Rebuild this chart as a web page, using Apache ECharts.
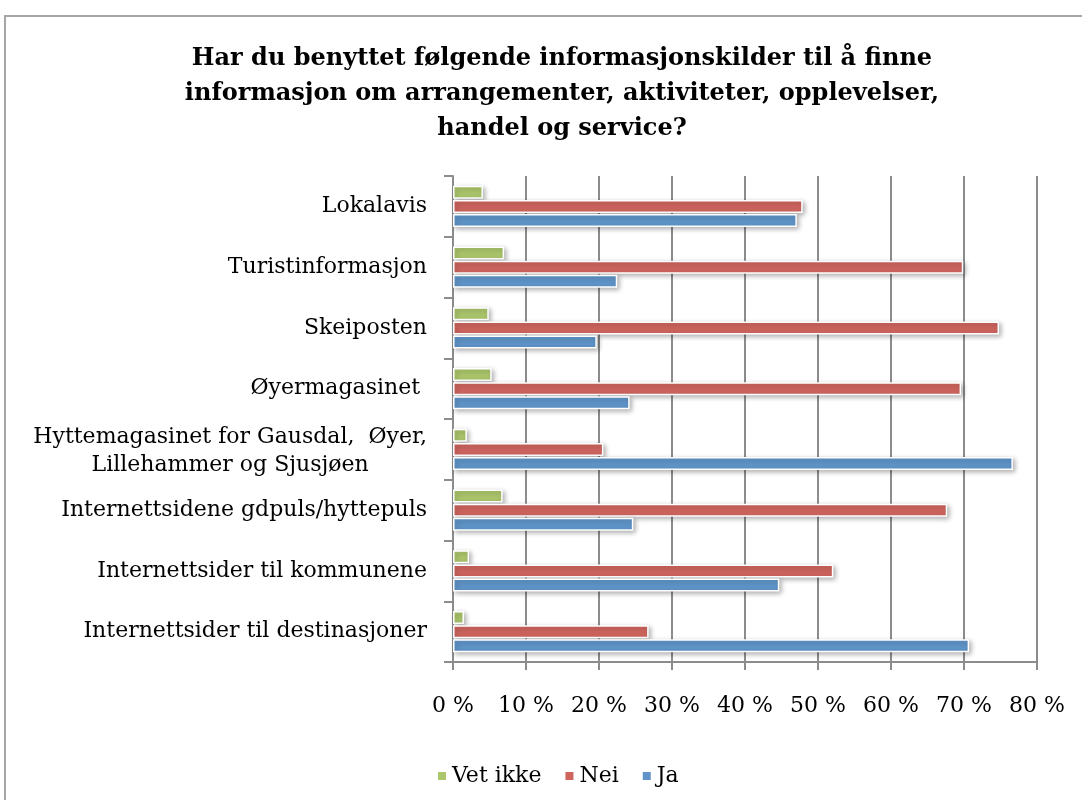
<!DOCTYPE html>
<html>
<head>
<meta charset="utf-8">
<script src="https://cdn.jsdelivr.net/npm/echarts@6/dist/echarts.min.js"></script>
<style>
  html, body { margin: 0; padding: 0; background: #fff; }
  #chart { width: 1082px; height: 800px; }
</style>
</head>
<body>
<div id="chart"></div>
<script>
const categories = [
  "Lokalavis",
  "Turistinformasjon",
  "Skeiposten",
  "Øyermagasinet ",
  "Hyttemagasinet for Gausdal,  Øyer,\nLillehammer og Sjusjøen",
  "Internettsidene gdpuls/hyttepuls",
  "Internettsider til kommunene",
  "Internettsider til destinasjoner"
];
const vetIkke = [4.1, 7.0, 4.9, 5.3, 1.9, 6.8, 2.2, 1.5];
const nei = [47.9, 69.9, 74.8, 69.6, 20.6, 67.7, 52.1, 26.8];
const ja = [47.1, 22.5, 19.7, 24.2, 76.7, 24.7, 44.7, 70.7];

const FONT = "'DejaVu Serif', serif";
const colors = { vet: "#abc56b", nei: "#cd645e", ja: "#5f94c8" };
const AXIS = "#8c8c8c";

const chart = echarts.init(document.getElementById("chart"), null, { renderer: "canvas" });

const barStyle = c => ({
  color: c,
  borderColor: "#fff",
  borderWidth: 1.5,
  shadowBlur: 5,
  shadowOffsetX: 2,
  shadowOffsetY: 2,
  shadowColor: "rgba(0,0,0,0.3)"
});

chart.setOption({
  backgroundColor: "#fff",
  animation: false,
  graphic: [{
    type: "polyline",
    shape: { points: [[5, 801], [5, 16], [1083, 16]] },
    style: { stroke: "#a6a6a6", lineWidth: 2, fill: null }
  }],
  title: {
    text: "Har du benyttet følgende informasjonskilder til å finne\ninformasjon om arrangementer, aktiviteter, opplevelser,\nhandel og service?",
    left: 557, top: 36, textAlign: "center",
    textStyle: { fontFamily: FONT, fontWeight: "bold", fontSize: 24, lineHeight: 35, color: "#000" }
  },
  legend: {
    data: ["Vet ikke", "Nei", "Ja"],
    top: 760, left: 431,
    itemWidth: 10, itemHeight: 10, itemGap: 22,
    icon: "rect",
    textStyle: { fontFamily: FONT, fontSize: 22, color: "#000" }
  },
  grid: { left: 453, right: 45, top: 176, bottom: 138 },
  xAxis: {
    type: "value", min: 0, max: 80, interval: 10,
    axisLine: { show: true, lineStyle: { color: AXIS, width: 2 } },
    axisTick: { show: true, length: 8, lineStyle: { color: AXIS, width: 2 } },
    splitLine: { show: true, lineStyle: { color: AXIS, width: 2 } },
    axisLabel: {
      margin: 33, color: "#000", fontFamily: FONT, fontSize: 22,
      formatter: v => v + " %"
    }
  },
  yAxis: {
    type: "category", inverse: true, data: categories,
    axisLine: { show: true, lineStyle: { color: AXIS, width: 2 } },
    axisTick: { show: true, length: 9, lineStyle: { color: AXIS, width: 2 } },
    axisLabel: {
      margin: 26, color: "#000", fontFamily: FONT, fontSize: 22, lineHeight: 31,
      formatter: v => v.indexOf("\n") >= 0
        ? v.split("\n").map((l, i) => "{" + (i ? "c" : "r") + "|" + l + "}").join("\n")
        : v,
      rich: {
        r: { fontFamily: FONT, fontSize: 22, lineHeight: 31, color: "#000", align: "right", padding: [6, 0, 0, 0] },
        c: { fontFamily: FONT, fontSize: 22, lineHeight: 31, color: "#000", align: "center" }
      }
    }
  },
  series: [
    { name: "Vet ikke", type: "bar", barWidth: 13, barGap: "8%", barCategoryGap: "30%", itemStyle: barStyle(colors.vet), data: vetIkke },
    { name: "Nei", type: "bar", barWidth: 13, barGap: "8%", itemStyle: barStyle(colors.nei), data: nei },
    { name: "Ja", type: "bar", barWidth: 13, barGap: "8%", itemStyle: barStyle(colors.ja), data: ja }
  ]
});
</script>
</body>
</html>
